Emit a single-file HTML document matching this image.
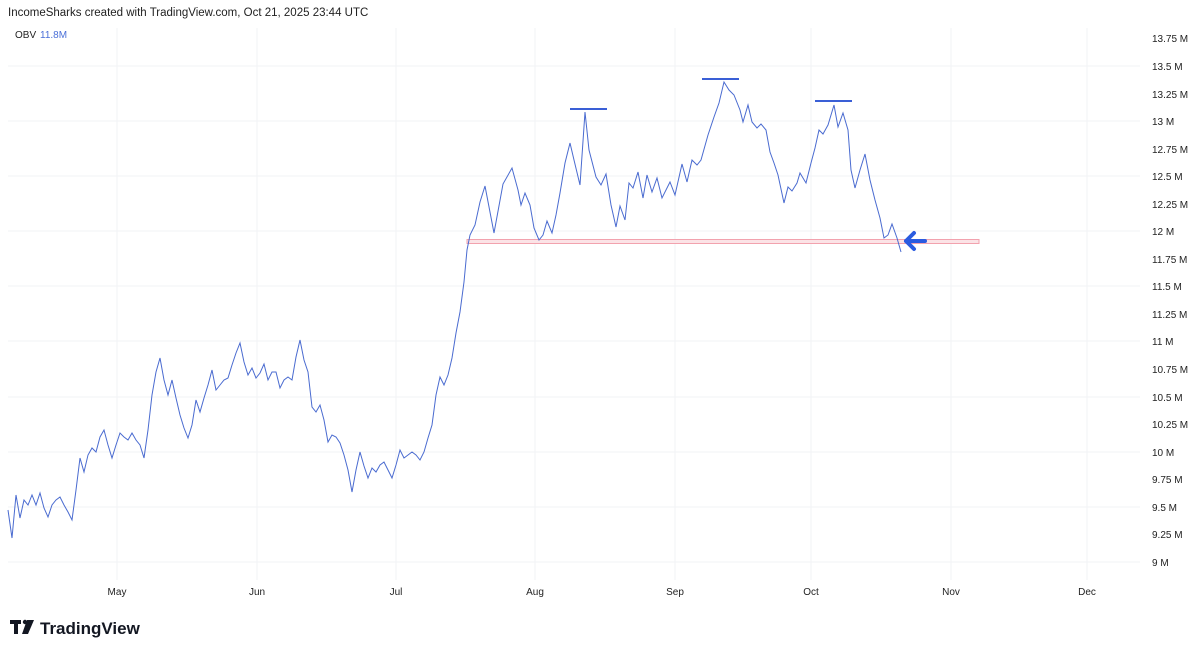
<!DOCTYPE html>
<html><head><meta charset="utf-8"><style>
body{margin:0;background:#fff;width:1200px;height:652px;overflow:hidden;font-family:"Liberation Sans",sans-serif}
</style></head><body>
<svg width="1200" height="652" xmlns="http://www.w3.org/2000/svg" font-family="Liberation Sans, sans-serif">
<rect width="1200" height="652" fill="#fff"/>
<g stroke="#f2f3f6" stroke-width="1">
<line x1="8" x2="1140" y1="66" y2="66"/><line x1="8" x2="1140" y1="121" y2="121"/><line x1="8" x2="1140" y1="176" y2="176"/><line x1="8" x2="1140" y1="231" y2="231"/><line x1="8" x2="1140" y1="286" y2="286"/><line x1="8" x2="1140" y1="341" y2="341"/><line x1="8" x2="1140" y1="397" y2="397"/><line x1="8" x2="1140" y1="452" y2="452"/><line x1="8" x2="1140" y1="507" y2="507"/><line x1="8" x2="1140" y1="562" y2="562"/>
<line x1="117" x2="117" y1="28" y2="580"/><line x1="257" x2="257" y1="28" y2="580"/><line x1="396" x2="396" y1="28" y2="580"/><line x1="535" x2="535" y1="28" y2="580"/><line x1="675" x2="675" y1="28" y2="580"/><line x1="811" x2="811" y1="28" y2="580"/><line x1="951" x2="951" y1="28" y2="580"/><line x1="1087" x2="1087" y1="28" y2="580"/>
</g>
<text x="8" y="16" font-size="11.5" fill="#222">IncomeSharks created with TradingView.com, Oct 21, 2025 23:44 UTC</text>
<text x="15" y="38" font-size="10" fill="#222">OBV</text>
<text x="40" y="38" font-size="10" fill="#4a6fd8">11.8M</text>
<g font-size="10" fill="#222">
<text x="1152" y="42">13.75 M</text><text x="1152" y="70">13.5 M</text><text x="1152" y="98">13.25 M</text><text x="1152" y="125">13 M</text><text x="1152" y="153">12.75 M</text><text x="1152" y="180">12.5 M</text><text x="1152" y="208">12.25 M</text><text x="1152" y="235">12 M</text><text x="1152" y="263">11.75 M</text><text x="1152" y="290">11.5 M</text><text x="1152" y="318">11.25 M</text><text x="1152" y="345">11 M</text><text x="1152" y="373">10.75 M</text><text x="1152" y="401">10.5 M</text><text x="1152" y="428">10.25 M</text><text x="1152" y="456">10 M</text><text x="1152" y="483">9.75 M</text><text x="1152" y="511">9.5 M</text><text x="1152" y="538">9.25 M</text><text x="1152" y="566">9 M</text>
</g>
<g font-size="10" fill="#222" text-anchor="middle">
<text x="117" y="595">May</text><text x="257" y="595">Jun</text><text x="396" y="595">Jul</text><text x="535" y="595">Aug</text><text x="675" y="595">Sep</text><text x="811" y="595">Oct</text><text x="951" y="595">Nov</text><text x="1087" y="595">Dec</text>
</g>
<rect x="467" y="239.5" width="512" height="4" fill="#fbe3e6" stroke="#f2a2ae" stroke-width="1"/>
<g stroke="#3a5fd6" stroke-width="2"><line x1="570" x2="607" y1="109" y2="109"/><line x1="702" x2="739" y1="79" y2="79"/><line x1="815" x2="852" y1="101" y2="101"/></g>
<polyline fill="none" stroke="#4a6bd0" stroke-width="1" points="8,510 12,538 16,495 20,518 24,500 28,505 32,495 36,505 40,493 44,508 48,517 52,505 56,500 60,497 64,505 68,512 72,520 76,490 80,458 84,472 88,455 92,448 96,452 100,437 104,430 108,445 112,458 116,445 120,433 124,437 128,440 132,433 136,440 140,445 144,458 148,430 152,395 156,372 160,358 164,380 168,395 172,380 176,398 180,415 184,428 188,438 192,425 196,400 200,412 204,398 208,385 212,370 216,390 220,385 224,380 228,378 232,365 236,353 240,343 244,362 248,375 252,368 256,378 260,373 264,364 268,380 272,372 276,372 280,388 284,380 288,377 292,380 296,357 300,340 304,360 308,372 312,407 316,412 320,405 324,420 328,442 332,435 336,437 340,443 344,455 348,470 352,492 356,470 360,452 364,466 368,478 372,468 376,472 380,465 384,462 388,470 392,478 396,465 400,450 404,458 408,455 412,452 416,455 420,460 424,452 428,438 432,425 436,395 440,377 444,385 448,375 452,358 456,333 460,312 464,282 467,250 470,235 475,225 480,202 485,186 494,233 503,184 512,168 518,190 521,205 525,193 530,205 534,228 539,240 543,235 547,221 552,233 556,215 560,193 565,163 570,143 574,160 580,185 585,112 589,150 596,177 601,185 606,174 611,205 616,227 620,206 625,220 629,183 633,188 638,172 643,198 647,175 652,192 657,178 662,198 670,182 675,195 682,164 687,182 692,160 697,165 701,160 708,135 714,117 719,103 724,82 729,90 734,95 740,110 743,122 748,105 752,122 757,128 761,124 766,130 770,152 774,163 778,175 784,203 788,187 792,191 797,183 800,173 806,183 811,163 815,148 819,130 823,134 828,125 834,105 838,127 843,113 848,130 851,170 855,188 860,170 865,154 870,180 875,200 880,218 884,238 888,235 892,224 897,238 901,252"/>
<g stroke="#2a5be0" stroke-width="4" fill="none" stroke-linecap="round" stroke-linejoin="round"><polyline points="914,233 906,241 914,249"/><line x1="906" y1="241" x2="925" y2="241"/></g>
<g fill="#131722"><rect x="10" y="620" width="11" height="4"/><rect x="14" y="620" width="4" height="14"/><circle cx="25" cy="622" r="2.2"/><polygon points="27,620 34,620 28,634 22,634"/></g>
<text x="40" y="634" font-size="17" font-weight="bold" fill="#131722">TradingView</text>
</svg>
</body></html>
